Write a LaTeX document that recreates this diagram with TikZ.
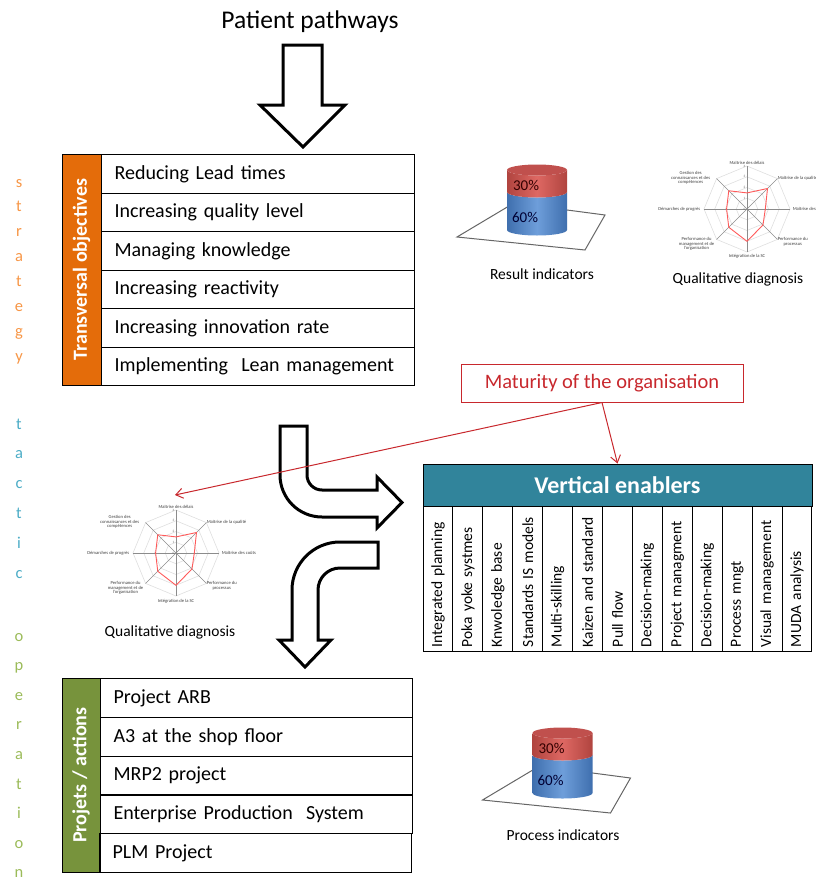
\documentclass[tikz,border=0pt]{standalone}
\usepackage{fontspec}
\setmainfont{Carlito}
\usetikzlibrary{arrows.meta}

\definecolor{objorange}{HTML}{E46C0A}
\definecolor{projgreen}{HTML}{77933C}
\definecolor{enabteal}{HTML}{31849B}
\definecolor{stratc}{HTML}{F79646}
\definecolor{tactc}{HTML}{4BACC6}
\definecolor{operc}{HTML}{9BBB59}
\definecolor{matred}{HTML}{C8282D}
\definecolor{radarred}{HTML}{FF5A5A}
\definecolor{cylblue}{HTML}{3F6FAE}
\definecolor{cylbluelt}{HTML}{6E9EDA}
\definecolor{cylred}{HTML}{B0443F}
\definecolor{cylredlt}{HTML}{DE6863}
\definecolor{cyltop}{HTML}{C0504D}

\newcommand{\fsz}[1]{\fontsize{#1}{#1}\selectfont}

\tikzset{
  bigarrow/.style={draw=black, line width=3pt, fill=white, line join=miter},
  objrow/.style={draw=black, line width=1.1pt, anchor=north west,
    minimum height=38.5pt, text width=287pt, inner xsep=13pt, inner ysep=0pt,
    align=left, font=\fsz{20}},
  sidebar/.style={draw=black, line width=1pt, rotate=90, text=white,
    font=\bfseries\fsz{20}, inner sep=0pt},
  enabcol/.style={draw=black, line width=1pt, rotate=90, minimum height=29.92pt,
    text width=137pt, inner xsep=4pt, inner ysep=0pt, align=left,
    font=\fsz{15.5}},
  sidelet/.style={anchor=base, font=\fsz{16.5}, inner sep=0pt},
  redline/.style={draw=matred, line width=1pt, -{Straight Barb[length=7pt,width=10pt]}},
  radargrid/.style={draw=black!13, line width=0.6pt},
  radaraxis/.style={draw=black!45, line width=0.6pt},
  radardata/.style={draw=radarred, line width=0.9pt},
  radarlbl/.style={font=\fsz{4.6}, text=black!75, inner sep=0.6pt, align=center},
  ticklbl/.style={font=\fsz{3.4}, text=black!55, inner sep=0pt, anchor=east},
  caption/.style={font=\fsz{15.5}, inner sep=0pt},
  pctlbl/.style={font=\fsz{15}, inner sep=0pt},
  floorc/.style={draw=black!60, line width=1pt, fill=white},
  pics/radar/.style={code={
    \foreach \r in {10.75,21.5,32.25,43}
      \draw[radargrid] (-90:\r) -- (-45:\r) -- (0:\r) -- (45:\r) -- (90:\r)
        -- (135:\r) -- (180:\r) -- (225:\r) -- cycle;
    \foreach \a in {-90,-45,...,225}
      \draw[radaraxis] (0,0) -- (\a:43);
    \foreach \v in {0,...,4}
      \node[ticklbl] (-t\v) at (-1.5,{-\v*10.75}) {\v};
    \draw[radardata] (-90:16.1) -- (-45:29) -- (0:18.3) -- (45:22.6)
      -- (90:32.3) -- (135:25.8) -- (180:20.4) -- (225:25.8) -- cycle;
    \node[radarlbl, anchor=south] (-l1) at (-90:44) {Maîtrise des délais};
    \node[radarlbl, anchor=west] (-l2) at (30,-31) {Maîtrise de la qualité};
    \node[radarlbl, anchor=west] (-l3) at (0:45) {Maîtrise des coûts};
    \node[radarlbl, anchor=west] (-l4) at (30,33) {Performance du\\processus};
    \node[radarlbl, anchor=north] (-l5) at (90:45) {Intégration de la SC};
    \node[radarlbl, anchor=east] (-l6) at (-32,35) {Performance du\\management et de\\l'organisation};
    \node[radarlbl, anchor=east] (-l7) at (180:46) {Démarches de progrès};
    \node[radarlbl, anchor=east] (-l8) at (-36,-31) {Gestion des\\connaissances et des\\compétences};
  }}
}

% indicator cylinder with its floor plate
\newcommand{\indicatorcyl}[1]{%
  \draw[floorc] (457,237) -- (514,203) -- (605,215) -- (585,250) -- cycle;
  \path[left color=cylblue, right color=cylblue, middle color=cylbluelt]
    (507,192) -- (507,230) arc[start angle=180, end angle=360, x radius=30pt, y radius=5.5pt]
    -- (567,192) arc[start angle=0, end angle=-180, x radius=30pt, y radius=5.5pt] -- cycle;
  \path[left color=cylred, right color=cylred, middle color=cylredlt]
    (507,170) -- (507,192) arc[start angle=180, end angle=360, x radius=30pt, y radius=5.5pt]
    -- (567,170) arc[start angle=0, end angle=-180, x radius=30pt, y radius=5.5pt] -- cycle;
  \fill[cyltop] (537,170) ellipse[x radius=30pt, y radius=5.5pt];
  \node[pctlbl, text=black!80!red] (#1a) at (526,185) {30\%};
  \node[pctlbl, text=black!80!blue] (#1b) at (525,217) {60\%};
}

\begin{document}
\begin{tikzpicture}[x=1pt, y=-1pt]
\useasboundingbox (0,0) rectangle (816,881);

% title and entry arrow
\node[font=\fsz{25.5}, inner sep=0pt] (title) at (310,22) {Patient pathways};
\draw[bigarrow] (283,45) -- (322,45) -- (322,105) -- (345,105) -- (303,147)
  -- (260,105) -- (283,105) -- cycle;

% level words down the left margin
\foreach \ch [count=\i] in {s,t,r,a,t,e,g,y}
  \node[sidelet, text=stratc] (st\i) at (19,{187+(\i-1)*24.9}) {\ch};
\foreach \ch [count=\i] in {t,a,c,t,i,c}
  \node[sidelet, text=tactc] (ta\i) at (19,{429+(\i-1)*29.9}) {\ch};
\foreach \ch [count=\i] in {o,p,e,r,a,t,i,o,n}
  \node[sidelet, text=operc] (op\i) at (19,{641+(\i-1)*29.6}) {\ch};

% transversal objectives
\node[sidebar, fill=objorange, minimum width=231pt, minimum height=39pt] (tobj) at (81.5,269.5) {Transversal objectives};
\node[objrow] (o1) at (101,154) {Reducing Lead times};
\node[objrow] (o2) at (101,192.5) {Increasing quality level};
\node[objrow] (o3) at (101,231) {Managing knowledge};
\node[objrow] (o4) at (101,269.5) {Increasing reactivity};
\node[objrow] (o5) at (101,308) {Increasing innovation rate};
\node[objrow] (o6) at (101,346.5) {Implementing\ \ Lean management};

% projects / actions
\node[sidebar, fill=projgreen, minimum width=194pt, minimum height=38pt] (pact) at (81,775) {Projets / actions};
\node[objrow, minimum height=38.8pt, text width=286pt] (p1) at (100,678) {Project ARB};
\node[objrow, minimum height=38.8pt, text width=286pt] (p2) at (100,716.8) {A3 at the shop floor};
\node[objrow, minimum height=38.8pt, text width=286pt] (p3) at (100,755.6) {MRP2 project};
\node[objrow, minimum height=38.8pt, text width=286pt] (p4) at (100,794.4) {Enterprise Production\ \ System};
\node[objrow, minimum height=38.8pt, text width=286pt] (p5) at (99,833.2) {PLM Project};

% indicators
\indicatorcyl{ri}
\node[caption] (ricap) at (542,274) {Result indicators};
\begin{scope}[shift={(25.5,563)}]
  \indicatorcyl{pi}
\end{scope}
\node[caption] (picap) at (563,835) {Process indicators};

% qualitative diagnoses
\pic (rtop) at (747,209) {radar};
\node[caption] (qtop) at (738,279) {Qualitative diagnosis};
\pic (rleft) at (176,553) {radar};
\node[caption] (qleft) at (170,632) {Qualitative diagnosis};

% bent arrows
\draw[bigarrow] (280,426) -- (307,426) -- (307,475)
  .. controls (307,483.3) and (313.7,490) .. (322,490)
  -- (377,490) -- (377,477) -- (402,502.5) -- (377,528) -- (377,517) -- (322,517)
  .. controls (298.8,517) and (280,498.2) .. (280,475) -- cycle;
\draw[bigarrow] (378,542) -- (340,542)
  .. controls (313.5,542) and (292,563.5) .. (292,590)
  -- (292,640) -- (279,640) -- (305,667) -- (331,640) -- (318,640) -- (318,590)
  .. controls (318,577.85) and (327.85,568) .. (340,568) -- (378,568) -- cycle;

% vertical enablers
\node[draw=black, line width=1pt, fill=enabteal, minimum width=389pt, minimum height=42pt,
  text=white, font=\bfseries\fsz{24}, inner sep=0pt] (veh) at (617.5,485) {Vertical enablers};
\foreach \t [count=\i] in {Integrated planning, Poka yoke systmes, Knwoledge base,
    Standards IS models, Multi-skilling, Kaizen and standard, Pull flow,
    Decision-making, Project managment, Decision-making, Process mngt,
    Visual management, MUDA analysis}
  \node[enabcol, minimum width=145pt] (ve\i) at ({423+(\i-0.5)*29.92},578.5) {\t};

% maturity of the organisation
\node[draw=matred, line width=1pt, minimum width=282pt, minimum height=38pt,
  text=matred, font=\fsz{20.5}, inner sep=0pt] (mat) at (602,383) {Maturity of the organisation};
\coordinate (radtarget) at (175,495);
\draw[redline] (mat.south) -- (veh.north);
\draw[redline] (mat.south) -- (radtarget);

\end{tikzpicture}
\end{document}
